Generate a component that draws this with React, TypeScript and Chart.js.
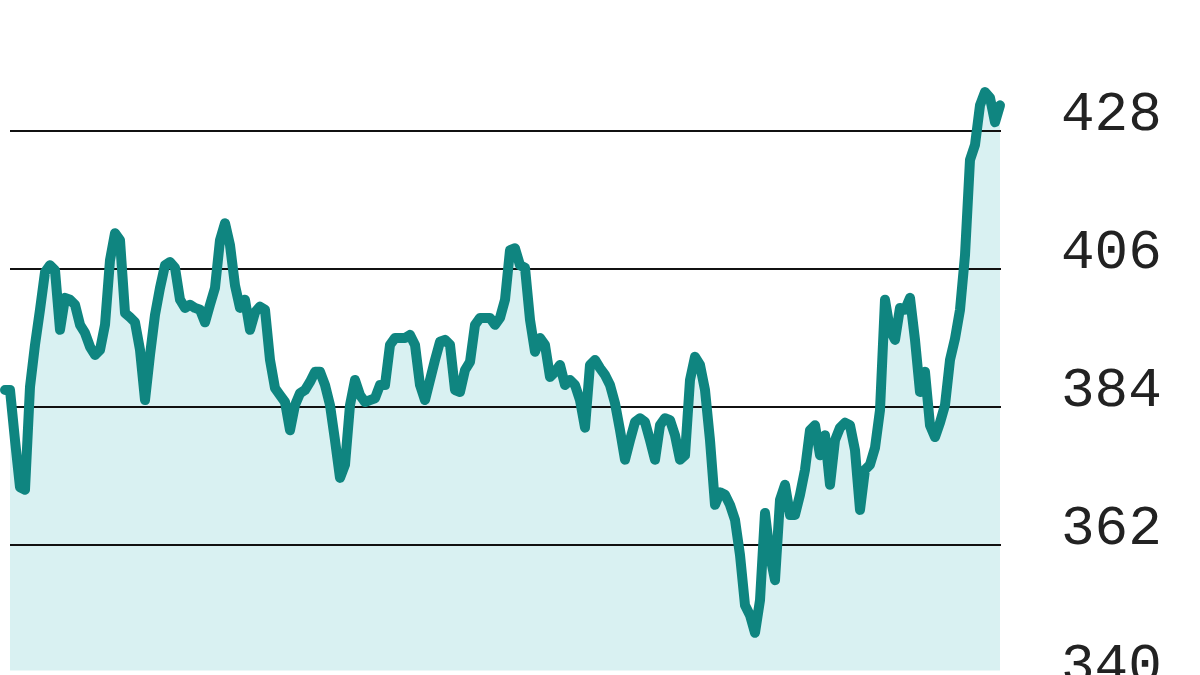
import React, { useEffect, useRef } from "react";
import { Chart, registerables } from "chart.js";

Chart.register(...registerables);

// Series values, read left to right (evenly spaced observations)
const VALUES: number[] = [
  393.6, 386.7, 386.7, 378.7, 371.2, 370.8, 387.2, 393.9, 399.5, 405.5,
  406.6, 405.8, 396.3, 401.4, 401.1, 400.3, 397.1, 395.8, 393.6, 392.3,
  393.1, 397.1, 407.4, 411.7, 410.6, 399.0, 398.3, 397.5, 393.1, 385.1,
  392.3, 398.7, 403.0, 406.6, 407.1, 406.2, 401.1, 399.8, 400.3, 399.8,
  399.5, 397.5, 400.3, 403.0, 410.6, 413.3, 409.8, 403.4, 399.8, 401.1,
  396.3, 399.1, 400.0, 399.5, 391.5, 387.0, 385.9, 384.8, 380.3, 384.3,
  386.2, 386.7, 388.0, 389.6, 389.6, 387.5, 384.3, 378.7, 372.7, 374.8,
  384.3, 388.3, 385.9, 384.8, 385.1, 385.4, 387.5, 387.5, 393.9, 395.0,
  395.0, 395.0, 395.5, 393.9, 387.5, 385.1, 388.3, 391.5, 394.4, 394.7,
  393.9, 386.7, 386.4, 389.9, 391.2, 397.1, 398.2, 398.2, 398.2, 397.1,
  398.2, 401.1, 409.0, 409.3, 406.6, 406.2, 397.9, 392.8, 395.0, 393.9,
  388.8, 389.6, 390.7, 387.5, 388.3, 387.5, 385.1, 380.7, 390.7, 391.5,
  390.2, 389.1, 387.5, 384.6, 380.3, 375.6, 378.7, 381.6, 382.2, 381.6,
  378.7, 375.6, 381.1, 382.2, 381.9, 379.5, 375.6, 376.3, 388.3, 392.0,
  390.7, 386.7, 378.7, 368.4, 370.4, 370.0, 368.4, 366.0, 360.4, 352.4,
  350.8, 348.0, 353.2, 367.1, 360.4, 356.4, 369.2, 371.6, 366.8, 366.8,
  370.0, 374.0, 380.3, 381.1, 376.3, 379.5, 371.6, 378.7, 380.7, 381.5,
  381.1, 377.1, 367.6, 374.0, 374.8, 377.5, 383.5, 401.1, 396.3, 394.7,
  399.8, 399.5, 401.4, 394.7, 386.4, 389.6, 381.1, 379.2, 381.5, 384.3,
  391.5, 394.9, 399.5, 408.2, 423.4, 425.8, 432.1, 434.2, 433.3, 429.4,
  432.1,
];

// Y-axis tick labels
const Y_TICKS: number[] = [340, 362, 384, 406, 428, 450];
const Y_MIN = 340;
const Y_MAX = 450;
const FILL_BASE = 342;

const LINE_COLOR = "#0f8580";
const FILL_COLOR = "#d9f1f2";

export default function App() {
  const canvasRef = useRef<HTMLCanvasElement | null>(null);

  useEffect(() => {
    const canvas = canvasRef.current;
    if (!canvas) return;
    const points = VALUES.map((v, i) => ({ x: i, y: v }));
    const chart = new Chart(canvas, {
      type: "line",
      data: {
        datasets: [
          {
            data: points,
            borderColor: LINE_COLOR,
            backgroundColor: FILL_COLOR,
            borderWidth: 10,
            pointRadius: 0,
            tension: 0,
            borderJoinStyle: "round",
            borderCapStyle: "round",
            fill: { value: FILL_BASE },
            clip: { left: 12, top: 30, right: 6, bottom: 0 },
          },
        ],
      },
      options: {
        animation: false,
        responsive: false,
        maintainAspectRatio: false,
        layout: { padding: { left: 10, right: 0, top: 40, bottom: 40 } },
        plugins: {
          legend: { display: false },
          tooltip: { enabled: false },
          filler: { drawTime: "beforeDraw" },
        } as any,
        scales: {
          x: {
            type: "linear",
            display: false,
            min: 2,
            max: 200.2,
          },
          y: {
            position: "right",
            min: Y_MIN,
            max: Y_MAX,
            afterBuildTicks: (scale: any) => {
              scale.ticks = Y_TICKS.map((v) => ({ value: v }));
            },
            afterFit: (scale: any) => {
              scale.width = 199;
              scale.paddingTop = 0;
              scale.paddingBottom = 0;
            },
            border: { display: false },
            grid: {
              color: "#111111",
              lineWidth: 2,
              drawTicks: false,
            },
            ticks: {
              padding: 60,
              labelOffset: -16,
              color: "#222222",
              font: { family: "'Liberation Mono', 'DejaVu Sans Mono', monospace", size: 56 },
              callback: (v: any) => String(v),
            },
          },
        },
      },
    });
    return () => chart.destroy();
  }, []);

  return (
    <div
      style={{
        position: "fixed",
        left: 0,
        top: -47,
        width: 1200,
        height: 770,
        overflow: "hidden",
        background: "#ffffff",
      }}
    >
      <canvas ref={canvasRef} width={1200} height={770} style={{ width: 1200, height: 770, display: "block" }} />
    </div>
  );
}
